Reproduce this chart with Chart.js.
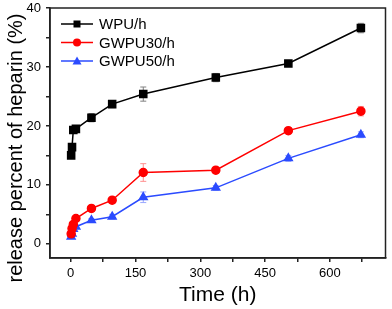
<!DOCTYPE html>
<html>
<head>
<meta charset="utf-8">
<script src="https://cdn.jsdelivr.net/npm/chart.js@4.4.0/dist/chart.umd.min.js"></script>
<style>
  html, body { margin: 0; padding: 0; background: #fff; }
</style>
</head>
<body>
<canvas id="chart" width="392" height="309"></canvas>
<script>
// Release time points (h)
const times = [1, 3, 6, 12, 48, 96, 168, 336, 504, 672];

// Cumulative release (%) per sample
const wpuValues    = [15.0, 16.4, 19.3, 19.5, 21.4, 23.7, 25.4, 28.2, 30.6, 36.6];
const gwpu30Values = [1.7, 2.6, 3.3, 4.3, 6.0, 7.4, 12.1, 12.5, 19.2, 22.5];
const gwpu50Values = [1.2, 1.7, 2.5, 2.9, 4.0, 4.6, 7.9, 9.5, 14.5, 18.5];

// Standard deviations (error bars)
const wpuErrors    = [0.3, 0.5, 0.4, 0.3, 0.7, 0.6, 1.2, 0.7, 0.4, 0.8];
const gwpu30Errors = [0.3, 0.3, 0.3, 0.3, 0.3, 0.3, 1.5, 0.3, 0.3, 0.8];
const gwpu50Errors = [0.3, 0.3, 0.3, 0.3, 0.3, 0.4, 0.9, 0.4, 0.5, 0.5];

const seriesLabels = ['WPU/h', 'GWPU30/h', 'GWPU50/h'];
const xTickLabels = [0, 150, 300, 450, 600];
const yTickLabels = [0, 10, 20, 30, 40];

const FONT = "'Liberation Sans', Arial, sans-serif";

function toPoints(values) {
    return times.map((t, i) => ({ x: t, y: values[i] }));
}

// draw a legend marker by style
function drawMarker(ctx, style, x, y, color) {
    ctx.fillStyle = color;
    ctx.beginPath();
    if (style === 'rect') {
        ctx.rect(x - 3.5, y - 3.5, 7, 7);
    } else if (style === 'circle') {
        ctx.arc(x, y, 4, 0, Math.PI * 2);
    } else {
        ctx.moveTo(x, y - 4.5);
        ctx.lineTo(x + 4.5, y + 3.5);
        ctx.lineTo(x - 4.5, y + 3.5);
        ctx.closePath();
    }
    ctx.fill();
}

/**
 * Vertical error bars with caps, using the chart scales
 */
const errorBarPlugin = {
    id: 'errorBars',
    beforeDatasetsDraw(chart) {
        const ctx = chart.ctx;
        const xs = chart.scales.x;
        const ys = chart.scales.y;
        chart.data.datasets.forEach(ds => {
            ctx.save();
            ctx.strokeStyle = ds.errorColor;
            ctx.lineWidth = 1;
            ds.data.forEach((p, i) => {
                const e = ds.errors[i];
                const px = xs.getPixelForValue(p.x);
                const top = ys.getPixelForValue(p.y + e);
                const bot = ys.getPixelForValue(p.y - e);
                ctx.beginPath();
                ctx.moveTo(px, top);
                ctx.lineTo(px, bot);
                ctx.moveTo(px - 3, top);
                ctx.lineTo(px + 3, top);
                ctx.moveTo(px - 3, bot);
                ctx.lineTo(px + 3, bot);
                ctx.stroke();
            });
            ctx.restore();
        });
    }
};

/**
 * Frame, legend with line+marker, rotated y title
 */
const decorPlugin = {
    id: 'decor',
    afterDraw(chart) {
        const ctx = chart.ctx;
        const a = chart.chartArea;
        ctx.save();
        ctx.strokeStyle = '#222';
        ctx.lineWidth = 1.5;
        ctx.strokeRect(a.left, a.top, a.right - a.left, a.bottom - a.top);

        // legend
        ctx.font = '15px ' + FONT;
        ctx.textBaseline = 'middle';
        chart.data.datasets.forEach((ds, i) => {
            const y = a.top + 16 + i * 18.5;
            const x0 = a.left + 11;
            ctx.strokeStyle = ds.borderColor;
            ctx.lineWidth = 1.5;
            ctx.beginPath();
            ctx.moveTo(x0, y);
            ctx.lineTo(x0 + 32, y);
            ctx.stroke();
            drawMarker(ctx, ds.pointStyle, x0 + 16, y, ds.borderColor);
            ctx.fillStyle = '#000';
            ctx.fillText(ds.label, x0 + 38, y + 1);
        });

        // y axis title
        ctx.translate(16, 148);
        ctx.rotate(-Math.PI / 2);
        ctx.font = '20px ' + FONT;
        ctx.textAlign = 'center';
        ctx.textBaseline = 'middle';
        ctx.fillStyle = '#000';
        ctx.fillText('release percent of heparin (%)', 0, 0);
        ctx.restore();
    }
};

const ctx = document.getElementById('chart');

new Chart(ctx, {
    type: 'line',
    data: {
        datasets: [
            {
                label: seriesLabels[0],
                data: toPoints(wpuValues),
                errors: wpuErrors,
                errorColor: '#808080',
                borderColor: '#000000',
                backgroundColor: '#000000',
                pointStyle: 'rect',
                pointRadius: 5,
                borderWidth: 1.5
            },
            {
                label: seriesLabels[1],
                data: toPoints(gwpu30Values),
                errors: gwpu30Errors,
                errorColor: '#ff9090',
                borderColor: '#ff0000',
                backgroundColor: '#ff0000',
                pointStyle: 'circle',
                pointRadius: 4,
                borderWidth: 1.5
            },
            {
                label: seriesLabels[2],
                data: toPoints(gwpu50Values),
                errors: gwpu50Errors,
                errorColor: '#9aa8ff',
                borderColor: '#2b4bff',
                backgroundColor: '#2b4bff',
                pointStyle: 'triangle',
                pointRadius: 4.5,
                borderWidth: 1.5
            }
        ]
    },
    options: {
        responsive: false,
        animation: false,
        layout: { padding: { top: 8, right: 3, left: 0, bottom: 0 } },
        plugins: {
            legend: { display: false },
            tooltip: { enabled: false }
        },
        scales: {
            x: {
                type: 'linear',
                min: -48,
                max: 729,
                afterFit: scale => {
                    scale.height = 51;
                    scale.paddingLeft = 0;
                    scale.paddingRight = 0;
                },
                border: { display: true, color: '#222', width: 1.5 },
                grid: { drawOnChartArea: false, drawTicks: true, tickLength: 4, color: '#222', lineWidth: 1.5 },
                ticks: {
                    stepSize: 75,
                    includeBounds: false,
                    autoSkip: false,
                    maxRotation: 0,
                    padding: 4,
                    color: '#000',
                    font: { family: FONT, size: 13 },
                    callback: v => xTickLabels.includes(v) ? String(v) : ''
                },
                title: {
                    display: true,
                    text: 'Time (h)',
                    color: '#000',
                    font: { family: FONT, size: 21 },
                    padding: { top: 0, bottom: 1 }
                }
            },
            y: {
                min: -2.4,
                max: 40,
                afterFit: scale => {
                    scale.width = 50;
                    scale.paddingTop = 0;
                    scale.paddingBottom = 0;
                },
                border: { display: true, color: '#222', width: 1.5 },
                grid: { drawOnChartArea: false, drawTicks: true, tickLength: 4, color: '#222', lineWidth: 1.5 },
                ticks: {
                    stepSize: 5,
                    includeBounds: false,
                    autoSkip: false,
                    padding: 5,
                    color: '#000',
                    font: { family: FONT, size: 13 },
                    callback: v => yTickLabels.includes(v) ? String(v) : ''
                }
            }
        }
    },
    plugins: [errorBarPlugin, decorPlugin]
});
</script>
</body>
</html>
